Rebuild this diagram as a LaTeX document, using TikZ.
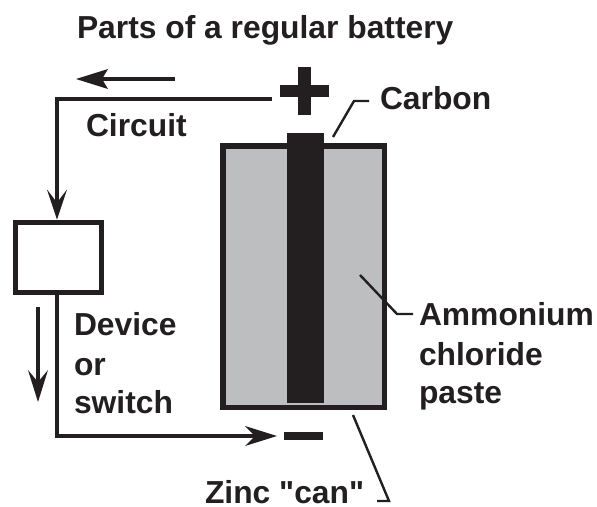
\documentclass[tikz,border=0pt]{standalone}
\usepackage{fontspec}
\newfontfamily\lab{Liberation Sans}
\usetikzlibrary{arrows.meta}
\definecolor{ink}{HTML}{231F20}
\definecolor{paste}{HTML}{BCBEC0}
\tikzset{
  x=1pt,y=-1pt,
  lbl/.style={anchor=base west,inner sep=0pt,outer sep=0pt,text=ink,font=\lab\fontsize{31.8}{36}\selectfont\bfseries},
  wire/.style={draw=ink,line width=4pt,miter limit=10},
  leader/.style={draw=ink,line width=2.4pt},
  solid block/.style={fill=ink,draw=none,inner sep=0pt,outer sep=0pt},
  head/.style n args={3}{-{Stealth[length=#1,width=#3,inset=#2,line width=0pt,color=ink]}},
  flowarrow/.style={draw=ink,line width=3.6pt},
}
\begin{document}
\begin{tikzpicture}
\useasboundingbox (0,0) rectangle (597,506);
% battery
\node[fill=paste,draw=ink,line width=5.5pt,inner sep=0pt,outer sep=0pt,minimum width=161.5pt,minimum height=261.5pt] (can) at (303.5,276.5) {};
\node[solid block,minimum width=37pt,minimum height=270pt] (rod) at (305.5,268) {};
% plus / minus
\node[solid block,minimum width=49pt,minimum height=12pt] (plus) at (304.5,91) {};
\node[solid block,minimum width=13pt,minimum height=48pt] (plusv) at (304.5,91) {};
\node[solid block,minimum width=39pt,minimum height=8pt] (minus) at (303.5,436) {};
% device
\node[draw=ink,fill=white,line width=5pt,inner sep=0pt,outer sep=0pt,minimum width=86pt,minimum height=70pt] (device) at (58.5,257.5) {};
% wires
\coordinate (wstart) at (272,99);
\coordinate (wdown) at (57,219.5);
\coordinate (wup) at (57,293);
\coordinate (wend) at (277,436);
\draw[wire,head={30pt}{13pt}{20pt}] (wstart) -- (57,99) -- (wdown);
\draw[wire,head={32pt}{10pt}{20pt}] (wup) -- (57,436) -- (wend);
% flow arrows
\coordinate (a1s) at (175,79);
\coordinate (a1e) at (76,79);
\coordinate (a2s) at (38,307);
\coordinate (a2e) at (38,402);
\draw[flowarrow,head={32pt}{6pt}{20pt}] (a1s) -- (a1e);
\draw[flowarrow,head={32pt}{12pt}{20pt}] (a2s) -- (a2e);
% labels
\node[lbl] (title) at (77,38) {Parts of a regular battery};
\node[lbl] (circuit) at (86,136) {Circuit};
\node[lbl] (carbon) at (380,109) {Carbon};
\node[lbl] (amm) at (419,325) {Ammonium};
\node[lbl] (chl) at (419,365) {chloride};
\node[lbl] (pst) at (419,403) {paste};
\node[lbl] (dev) at (74,335) {Device};
\node[lbl] (orr) at (74,375) {or};
\node[lbl] (swi) at (74,413) {switch};
\node[lbl] (zinc) at (205,503) {Zinc "can"};
% leaders
\coordinate (c1) at (333,137);
\coordinate (c2) at (369,101);
\coordinate (m1) at (360,275);
\coordinate (m2) at (413,314);
\coordinate (z1) at (353,415);
\coordinate (z2) at (377,501);
\draw[leader] (c1) -- (354,101) -- (c2);
\draw[leader] (m1) -- (397,314) -- (m2);
\draw[leader] (z1) -- (389,501) -- (z2);
\end{tikzpicture}
\end{document}
